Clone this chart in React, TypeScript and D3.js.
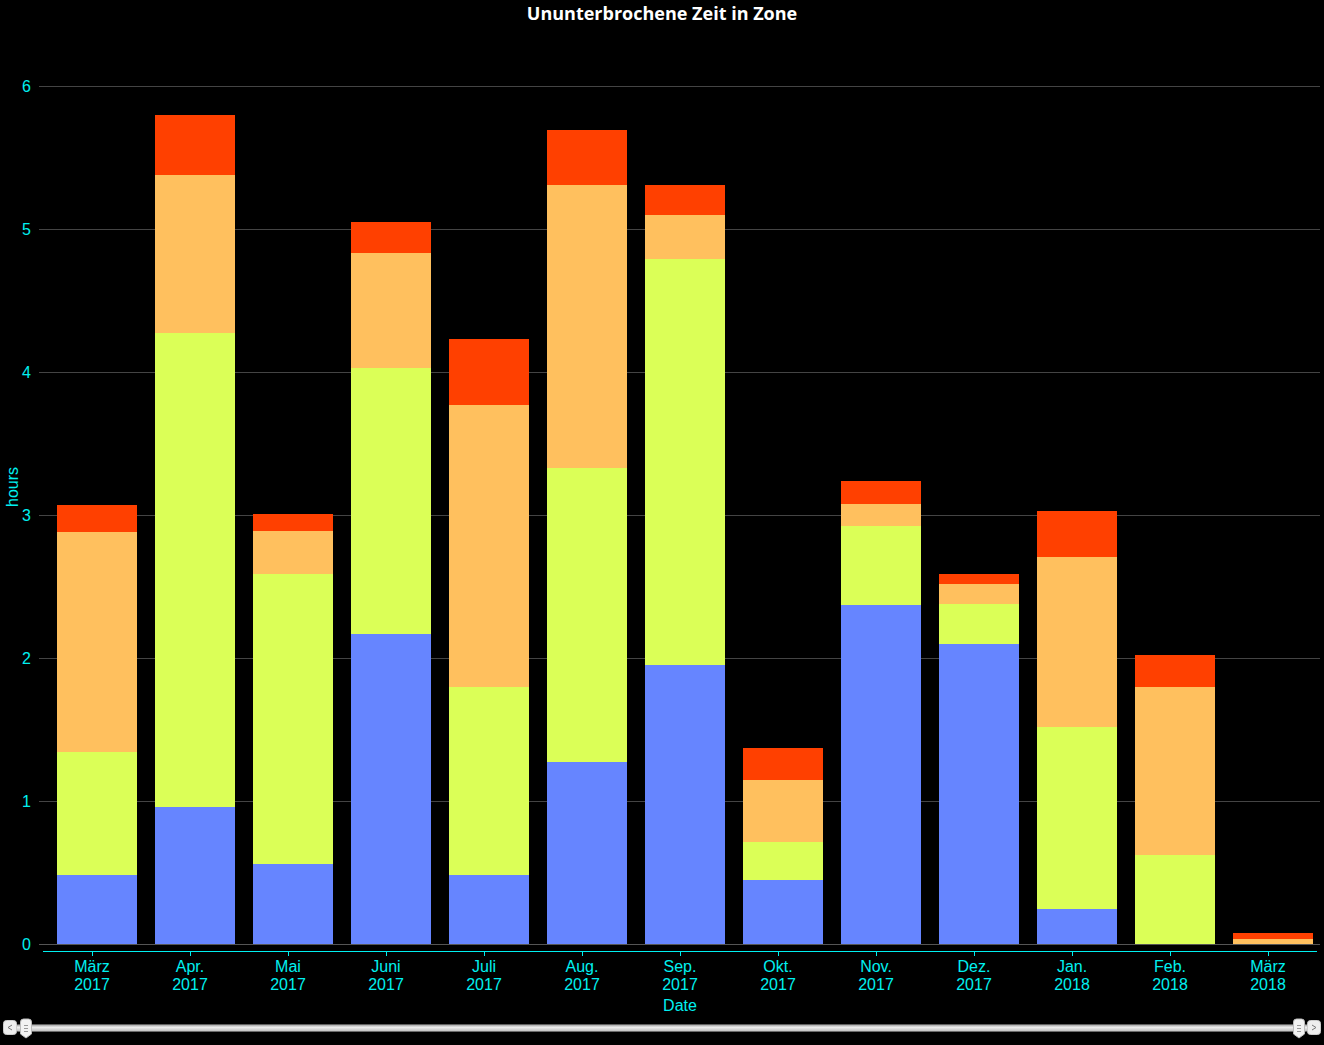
import React from "react";
import * as d3 from "d3";

const categories = [
  ["März", "2017"], ["Apr.", "2017"], ["Mai", "2017"], ["Juni", "2017"], ["Juli", "2017"],
  ["Aug.", "2017"], ["Sep.", "2017"], ["Okt.", "2017"], ["Nov.", "2017"], ["Dez.", "2017"],
  ["Jan.", "2018"], ["Feb.", "2018"], ["März", "2018"],
];
const zone1 = [0.48, 0.96, 0.56, 2.17, 0.48, 1.27, 1.95, 0.45, 2.37, 2.10, 0.245, 0, 0];
const zone2 = [0.86, 3.31, 2.03, 1.86, 1.32, 2.06, 2.84, 0.26, 0.55, 0.28, 1.27, 0.62, 0];
const zone3 = [1.54, 1.11, 0.30, 0.80, 1.97, 1.98, 0.31, 0.44, 0.16, 0.14, 1.19, 1.18, 0.035];
const zone4 = [0.19, 0.42, 0.12, 0.22, 0.46, 0.38, 0.21, 0.22, 0.16, 0.07, 0.32, 0.22, 0.04];
const yTicks = [0, 1, 2, 3, 4, 5, 6];
const seriesColors = ["#6685ff", "#dbff57", "#ffc05e", "#ff4000"];

const W = 1324;
const H = 1045;
const FONT = "'Open Sans', 'DejaVu Sans', sans-serif";
const LFONT = "'Liberation Sans', Arial, sans-serif";
const CYAN = "#00f0f0";

export default function App() {
  const x = d3.scaleBand<number>().domain(d3.range(categories.length)).range([48, 1322]).paddingInner(18 / 98).paddingOuter(9 / 98);
  const y = d3.scaleLinear().domain([0, 6]).range([944, 86]);
  const rows = categories.map((_, i) => ({ i, z1: zone1[i], z2: zone2[i], z3: zone3[i], z4: zone4[i] }));
  const stack = d3.stack<any>().keys(["z1", "z2", "z3", "z4"]);
  const layers = stack(rows);

  return (
    <svg width={W} height={H} style={{ display: "block", position: "absolute", left: 0, top: 0, background: "#000" }}>
      <rect x={0} y={0} width={W} height={H} fill="#000" />
      <text x={662} y={20} textAnchor="middle" fill="#fff" fontFamily={FONT} fontWeight={700} fontSize={18}>
        Ununterbrochene Zeit in Zone
      </text>
      {yTicks.map((t) => (
        <g key={t}>
          <line x1={39} x2={1320} y1={y(t) + 0.5} y2={y(t) + 0.5} stroke={t === 0 ? "#555" : "#444"} strokeWidth={1} />
          <text x={31} y={y(t) + 6} textAnchor="end" fill={CYAN} fontFamily={LFONT} fontSize={16}>{t}</text>
        </g>
      ))}
      <text transform="translate(18,487) rotate(-90)" textAnchor="middle" fill={CYAN} fontFamily={LFONT} fontSize={16}>hours</text>
      {layers.map((layer, li) => (
        <g key={li} fill={seriesColors[li]} shapeRendering="crispEdges">
          {layer.map((d, i) => {
            const y0 = Math.round(y(d[0]));
            const y1 = Math.round(y(d[1]));
            const h = y0 - y1;
            if (h <= 0) return null;
            return <rect key={i} x={x(i)!} width={x.bandwidth()} y={y1} height={h} />;
          })}
        </g>
      ))}
      <line x1={43} x2={1317} y1={951.5} y2={951.5} stroke={CYAN} strokeWidth={1} />
      {categories.map((c, i) => {
        const cx = Math.round(x(i)! + x.bandwidth() / 2) - 5;
        return (
          <g key={i}>
            <line x1={cx + 0.5} x2={cx + 0.5} y1={951} y2={956} stroke={CYAN} />
            <text x={cx} y={972} textAnchor="middle" fill={CYAN} fontFamily={LFONT} fontSize={16}>{c[0]}</text>
            <text x={cx} y={990} textAnchor="middle" fill={CYAN} fontFamily={LFONT} fontSize={16}>{c[1]}</text>
          </g>
        );
      })}
      <text x={680} y={1011} textAnchor="middle" fill={CYAN} fontFamily={LFONT} fontSize={16}>Date</text>
      <defs>
        <linearGradient id="trk" x1="0" x2="0" y1="0" y2="1">
          <stop offset="0" stopColor="#999" />
          <stop offset="0.4" stopColor="#eee" />
          <stop offset="1" stopColor="#bbb" />
        </linearGradient>
      </defs>
      <rect x={16} y={1024.5} width={1292} height={7} fill="url(#trk)" stroke="#777" strokeWidth={0.5} rx={2} />
      <rect x={3.5} y={1020.5} width={13} height={14} rx={3} fill="#eee" stroke="#ccc" />
      <path d="M12,1025 L8,1027.5 L12,1030" fill="none" stroke="#777" strokeWidth={1} />
      <rect x={1307.5} y={1020.5} width={13} height={14} rx={3} fill="#eee" stroke="#ccc" />
      <path d="M1312,1025 L1316,1027.5 L1312,1030" fill="none" stroke="#777" strokeWidth={1} />
      {[20, 1293].map((hx) => (
        <g key={hx}>
          <path d={`M${hx + 0.5},${1022} q0,-3 3,-3 h5 q3,0 3,3 v12 l-5.5,4 l-5.5,-4 z`} fill="#f2f2f2" stroke="#bbb" />
          <line x1={hx + 4} x2={hx + 8} y1={1025.5} y2={1025.5} stroke="#999" />
          <line x1={hx + 4} x2={hx + 8} y1={1028.5} y2={1028.5} stroke="#999" />
          <line x1={hx + 4} x2={hx + 8} y1={1031.5} y2={1031.5} stroke="#999" />
        </g>
      ))}
    </svg>
  );
}
